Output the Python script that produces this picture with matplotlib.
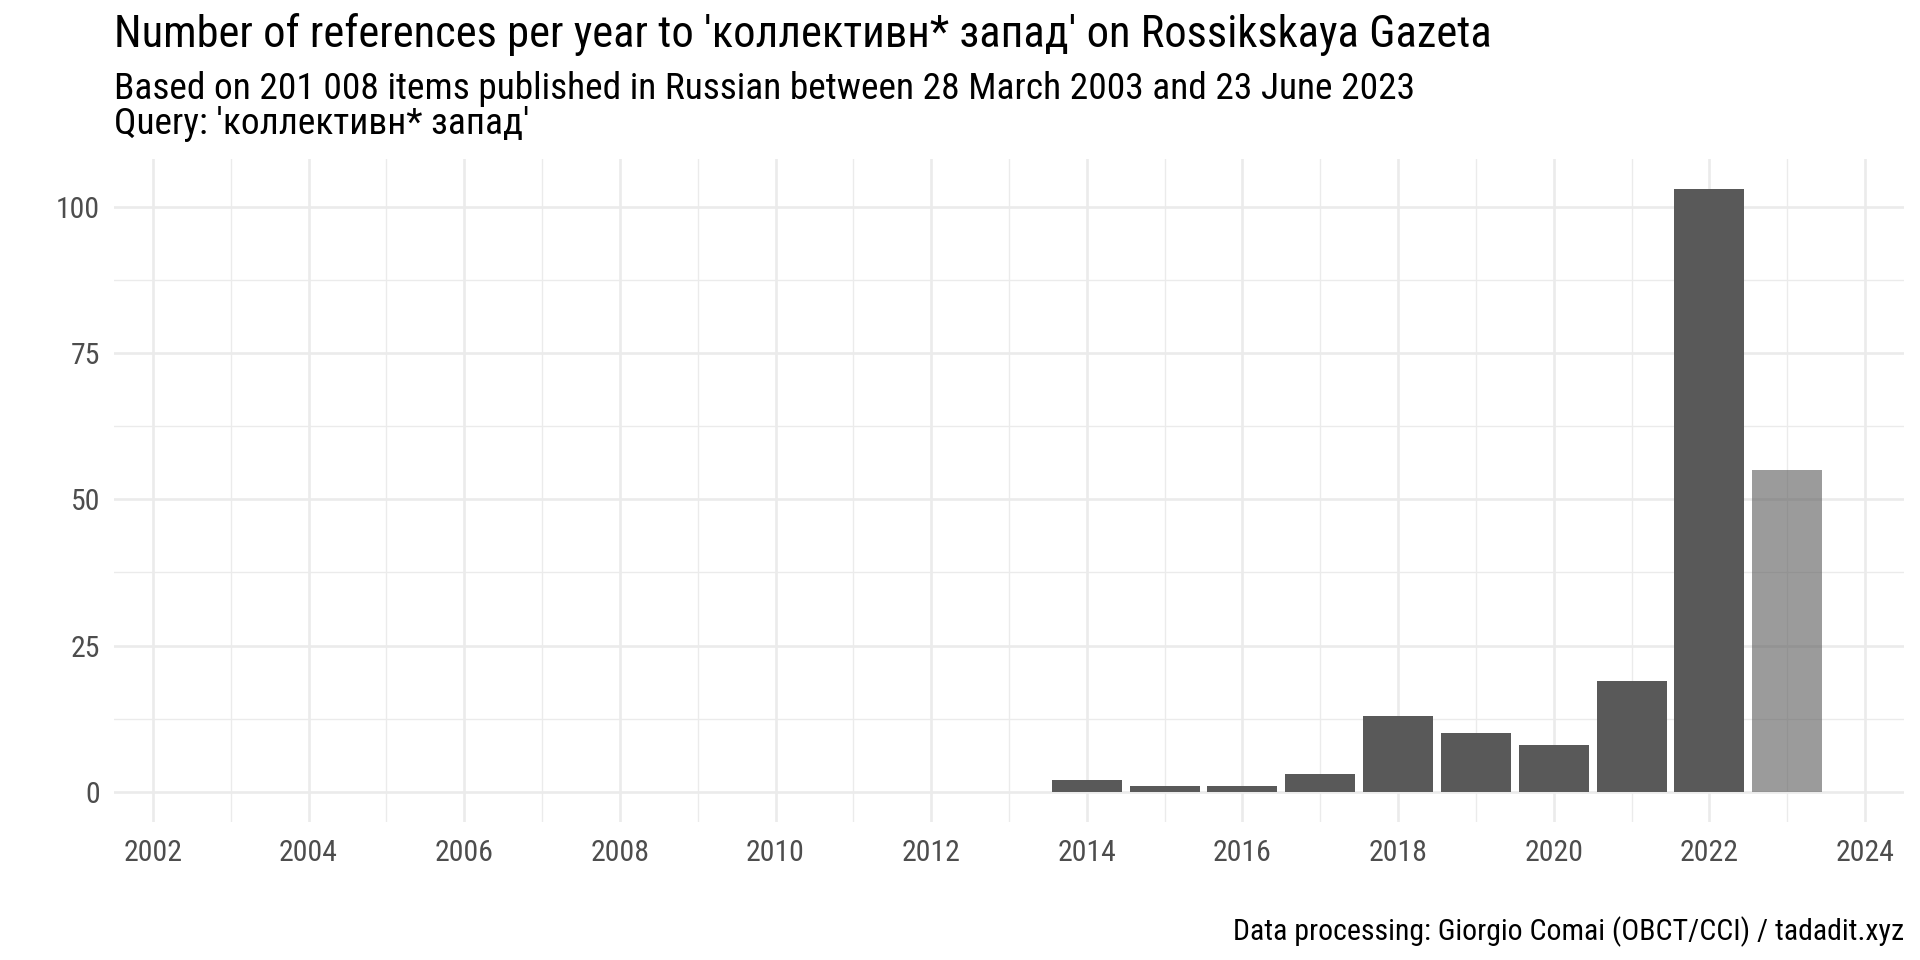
import matplotlib
matplotlib.use('Agg')
import matplotlib.pyplot as plt
from matplotlib import font_manager
import numpy as np

# data
years = [2014, 2015, 2016, 2017, 2018, 2019, 2020, 2021, 2022, 2023]
counts = [2, 1, 1, 3, 13, 10, 8, 19, 103, 55]
partial_year = 2023  # incomplete year drawn lighter

title = "Number of references per year to 'коллективн* запад' on Rossikskaya Gazeta"
subtitle1 = "Based on 201 008 items published in Russian between 28 March 2003 and 23 June 2023"
subtitle2 = "Query: 'коллективн* запад'"
caption = "Data processing: Giorgio Comai (OBCT/CCI) / tadadit.xyz"

names = {f.name for f in font_manager.fontManager.ttflist}
if 'Roboto Condensed' in names:
    fam = 'Roboto Condensed'
    shrink = 1.0
else:
    fam = 'Roboto'
    shrink = 0.88
plt.rcParams['font.family'] = [fam, 'DejaVu Sans']

W, H = 1920, 960
fig = plt.figure(figsize=(19.2, 9.6), dpi=100)
ax = fig.add_axes([114 / W, 1 - 822 / H, (1904 - 114) / W, (822 - 159) / H])

alphas = [0.6 if y == partial_year else 1.0 for y in years]
for yr, c, a in zip(years, counts, alphas):
    ax.bar(yr, c, width=0.9, color='#595959', alpha=a, zorder=3, linewidth=0)

ax.set_xlim(2001.5, 2024.5)
ax.set_ylim(-5.15, 108.15)
ax.set_xticks(np.arange(2002, 2025, 2))
ax.set_xticks(np.arange(2003, 2025, 2), minor=True)
ax.set_yticks([0, 25, 50, 75, 100])
ax.set_yticks([12.5, 37.5, 62.5, 87.5], minor=True)
ax.grid(which='major', color='#ebebeb', linewidth=1.9, zorder=0)
ax.grid(which='minor', color='#ebebeb', linewidth=0.95, zorder=0)
ax.set_axisbelow(True)
for s in ax.spines.values():
    s.set_visible(False)
ax.tick_params(which='both', length=0)
ax.tick_params(axis='y', pad=10, labelsize=21.5 * shrink, labelcolor='#4d4d4d')
ax.tick_params(axis='x', pad=12, labelsize=21.5 * shrink, labelcolor='#4d4d4d')

fig.text(114 / W, 1 - 47 / H, title, fontsize=32 * shrink, va='baseline', ha='left', color='black')
fig.text(114 / W, 1 - 99 / H, subtitle1, fontsize=26.9 * shrink, va='baseline', ha='left', color='black')
fig.text(114 / W, 1 - 134 / H, subtitle2, fontsize=26.9 * shrink, va='baseline', ha='left', color='black')
fig.text(1904 / W, 1 - 940 / H, caption, fontsize=21.5 * shrink, va='baseline', ha='right', color='black')

fig.savefig('out.png', dpi=100, facecolor='white')
